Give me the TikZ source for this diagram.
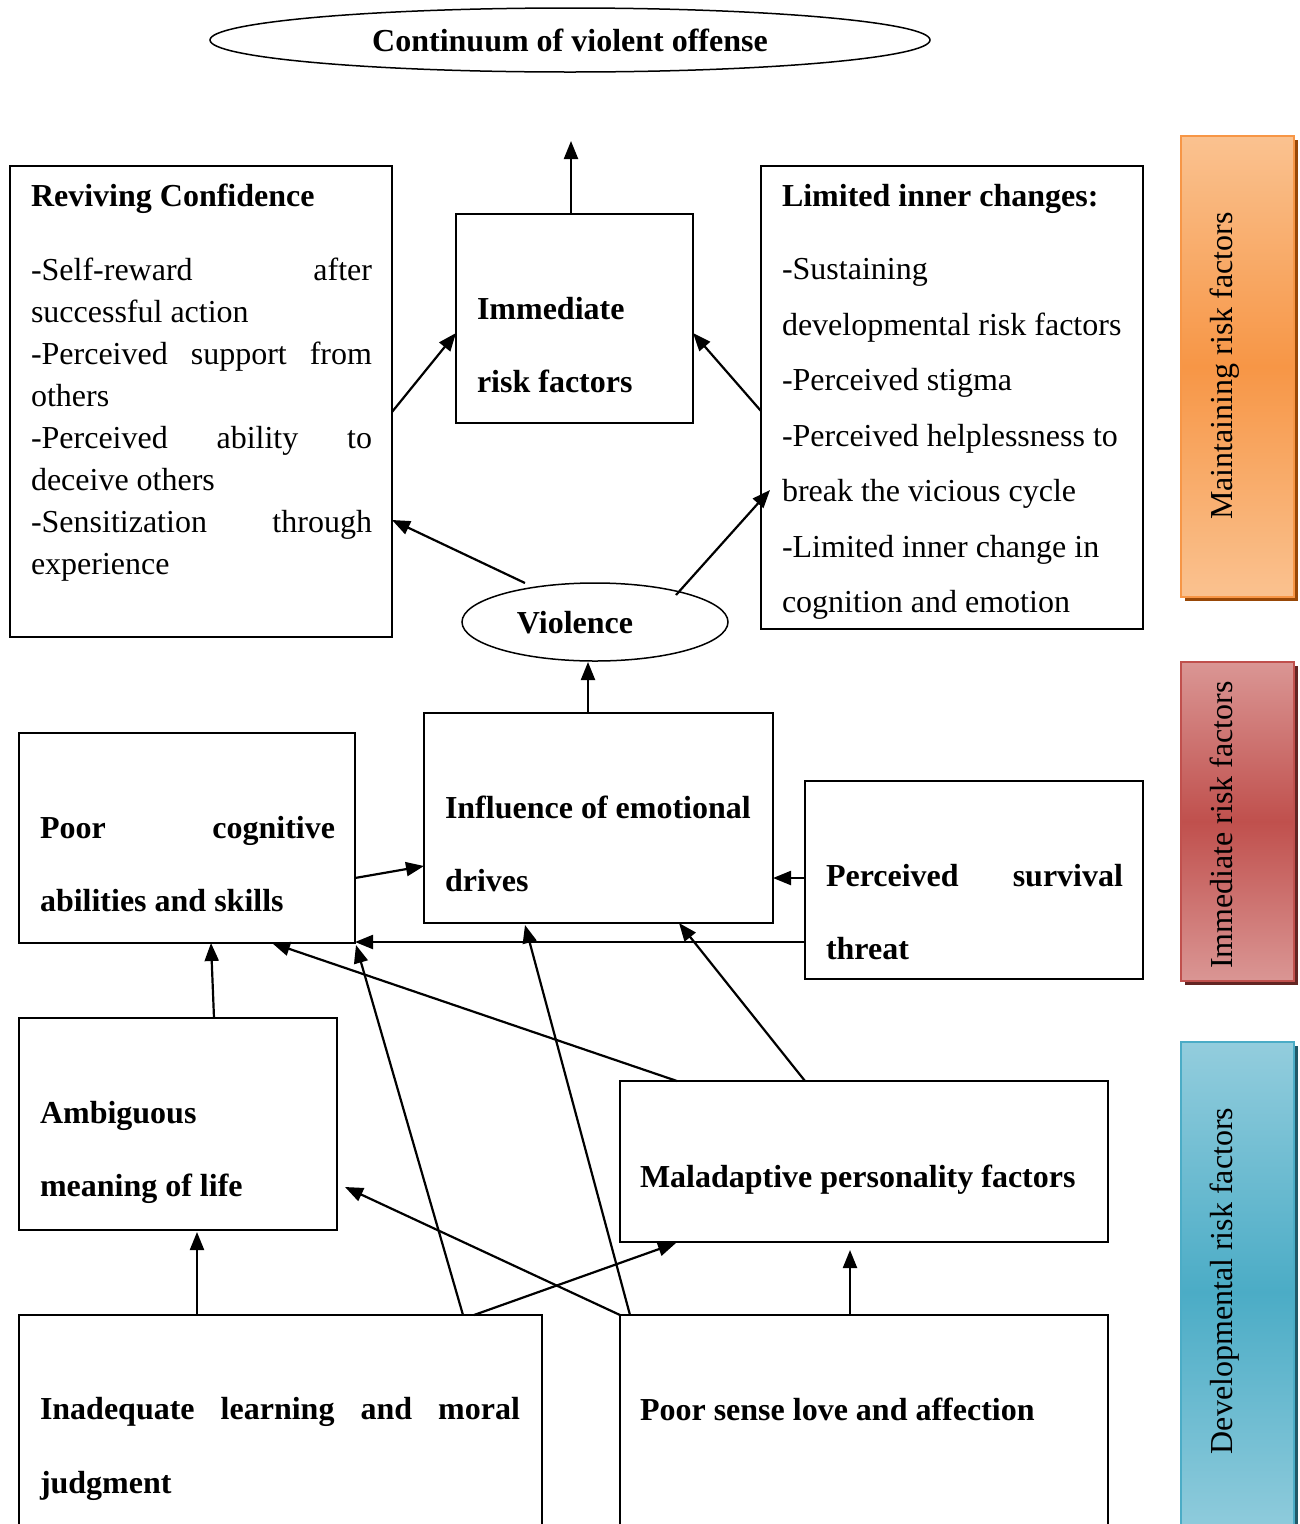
\documentclass[tikz,border=0pt]{standalone}
\usepackage{fontspec}
\setmainfont{Liberation Serif}
\usetikzlibrary{arrows.meta,shapes.geometric,calc}
\definecolor{orgLight}{HTML}{FAC290}
\definecolor{orgMid}{HTML}{F79646}
\definecolor{orgDark}{HTML}{984807}
\definecolor{redLight}{HTML}{DA9694}
\definecolor{redMid}{HTML}{C0504D}
\definecolor{redDark}{HTML}{632523}
\definecolor{bluLight}{HTML}{93CDDD}
\definecolor{bluMid}{HTML}{4BACC6}
\definecolor{bluDark}{HTML}{215968}
\begin{document}
\begin{tikzpicture}[x=1pt,y=-1pt,
  box/.style={draw=black, line width=1.8pt, rectangle, anchor=north west,
    inner sep=0pt, outer sep=0pt},
  oval/.style={draw=black, line width=1.5pt, ellipse, inner sep=0pt, outer sep=0pt},
  txt/.style={inner sep=0pt, outer sep=0pt, anchor=base west},
  conn/.style={line width=2.2pt, -{Triangle[length=18pt,width=14pt]}},
  band/.style={rectangle, anchor=north west, minimum width=113pt,
    line width=2pt, inner sep=0pt, outer sep=0pt},
  bandtxt/.style={rotate=90, anchor=base, inner sep=0pt,
    font=\fontsize{32}{38}\selectfont}
]
\useasboundingbox (0,0) rectangle (1300,1524);
\clip (0,0) rectangle (1300,1524);

% ---- outcome and top level ----
\node[oval, minimum width=720pt, minimum height=64pt,
  font=\fontsize{32}{38}\selectfont\bfseries] (cont) at (570,40)
  {Continuum of violent offense};

\node[box, minimum width=382pt, minimum height=471pt] (rev) at (10,166) {};
\node[txt] (revtxt) at (31,206) {\parbox[t]{341pt}{\fontsize{32}{42}\selectfont
  \textbf{Reviving Confidence}\\[32pt]
  \makebox[\linewidth][s]{-Self-reward after}\\
  successful action\\
  \makebox[\linewidth][s]{-Perceived support from}\\
  others\\
  \makebox[\linewidth][s]{-Perceived ability to}\\
  deceive others\\
  \makebox[\linewidth][s]{-Sensitization through}\\
  experience}};

\node[box, minimum width=237pt, minimum height=209pt] (imm) at (456,214) {};
\node[txt] (immtxt) at (477,319) {\parbox[t]{210pt}{\fontsize{32}{73}\selectfont\bfseries
  Immediate\\ risk factors}};

\node[box, minimum width=382pt, minimum height=463pt] (lim) at (761,166) {};
\node[txt] (limtxt) at (782,206) {\parbox[t]{361pt}{\fontsize{32}{55.5}\selectfont
  \textbf{Limited inner changes:}\\[18pt]
  -Sustaining\\
  developmental risk factors\\
  -Perceived stigma\\
  -Perceived helplessness to\\
  break the vicious cycle\\
  -Limited inner change in\\
  cognition and emotion}};

\node[oval, minimum width=266pt, minimum height=78pt] (viol) at (595,622) {};
\node[inner sep=0pt, anchor=base, font=\fontsize{32}{38}\selectfont\bfseries]
  (violtxt) at (575,633) {Violence};

% ---- immediate risk factors ----
\node[box, minimum width=349pt, minimum height=210pt] (infl) at (424,713) {};
\node[txt] (infltxt) at (445,818) {\parbox[t]{320pt}{\fontsize{32}{73}\selectfont\bfseries
  Influence of emotional\\ drives}};

\node[box, minimum width=336pt, minimum height=210pt] (poor) at (19,733) {};
\node[txt] (poortxt) at (40,838) {\parbox[t]{295pt}{\fontsize{32}{73}\selectfont\bfseries
  \makebox[\linewidth][s]{Poor cognitive}\\ abilities and skills}};

\node[box, minimum width=338pt, minimum height=198pt] (thr) at (805,781) {};
\node[txt] (thrtxt) at (826,886) {\parbox[t]{297pt}{\fontsize{32}{73}\selectfont\bfseries
  \makebox[\linewidth][s]{Perceived survival}\\ threat}};

% ---- developmental risk factors ----
\node[box, minimum width=318pt, minimum height=212pt] (amb) at (19,1018) {};
\node[txt] (ambtxt) at (40,1123) {\parbox[t]{280pt}{\fontsize{32}{73}\selectfont\bfseries
  Ambiguous\\ meaning of life}};

\node[box, minimum width=488pt, minimum height=161pt] (mal) at (620,1081) {};
\node[txt] (maltxt) at (640,1187) {\bfseries\fontsize{32}{38}\selectfont
  Maladaptive personality factors};

\node[box, minimum width=523pt, minimum height=220pt] (inad) at (19,1315) {};
\node[txt] (inadtxt) at (40,1419) {\parbox[t]{480pt}{\fontsize{32}{74}\selectfont\bfseries
  \makebox[\linewidth][s]{Inadequate learning and moral}\\ judgment}};

\node[box, minimum width=488pt, minimum height=220pt] (love) at (620,1315) {};
\node[txt] (lovetxt) at (640,1420) {\bfseries\fontsize{32}{38}\selectfont
  Poor sense love and affection};

% ---- side bands ----
\fill[orgDark] (1185,140) rectangle (1298,601);
\node[band, minimum height=461pt, draw=orgMid, top color=orgLight,
  bottom color=orgLight, middle color=orgMid] (mband) at (1181,136) {};
\node[bandtxt] (mbandtxt) at (1232,366) {Maintaining risk factors};

\fill[redDark] (1185,666) rectangle (1298,985);
\node[band, minimum height=319pt, draw=redMid, top color=redLight,
  bottom color=redLight, middle color=redMid] (iband) at (1181,662) {};
\node[bandtxt] (ibandtxt) at (1232,825) {Immediate risk factors};

\fill[bluDark] (1185,1046) rectangle (1298,1560);
\node[band, minimum height=500pt, draw=bluMid, top color=bluLight,
  bottom color=bluLight, middle color=bluMid] (dband) at (1181,1042) {};
\node[bandtxt] (dbandtxt) at (1232,1281) {Developmental risk factors};

% ---- connectors ----
\draw[conn] ($(imm.north west)+(115,0)$) -- ($(imm.north west)+(115,-73)$);
\draw[conn] ($(rev.north east)+(0,246)$) -- ($(imm.north west)+(0,119)$);
\draw[conn] ($(lim.north west)+(0,245)$) -- ($(imm.north east)+(0,119)$);
\draw[conn] ($(viol.north)+(-70,0)$) -- ($(rev.north east)+(0,354)$);
\draw[conn] ($(viol.north)+(81,12)$) -- ($(lim.north west)+(9,324)$);
\draw[conn] ($(infl.north west)+(164,0)$) -- ($(viol.south)+(-7,1)$);

\draw[conn] ($(poor.north east)+(0,145)$) -- ($(infl.north west)+(0,153)$);
\draw[conn] ($(thr.north west)+(0,97)$) -- ($(infl.north east)+(0,165)$);
\draw[conn] ($(thr.north west)+(0,161)$) -- ($(poor.south east)+(0,-1)$);

\draw[conn] ($(amb.north west)+(195,0)$) -- ($(poor.south west)+(192,0)$);
\draw[conn] ($(mal.north west)+(57,0)$) -- ($(poor.south west)+(253,0)$);
\draw[conn] ($(mal.north west)+(185,0)$) -- ($(infl.south west)+(255,0)$);

\draw[conn] ($(inad.north west)+(178,0)$) -- ($(amb.south west)+(178,2)$);
\draw[conn] ($(inad.north west)+(444,0)$) -- ($(poor.south east)+(1,2)$);
\draw[conn] ($(inad.north west)+(455,0)$) -- ($(mal.south west)+(56,1)$);
\draw[conn] ($(love.north west)+(10,0)$) -- ($(infl.south west)+(101,2)$);
\draw[conn] (love.north west) -- ($(amb.north east)+(8,169)$);
\draw[conn] ($(love.north west)+(230,0)$) -- ($(mal.south west)+(230,8)$);
\end{tikzpicture}
\end{document}
